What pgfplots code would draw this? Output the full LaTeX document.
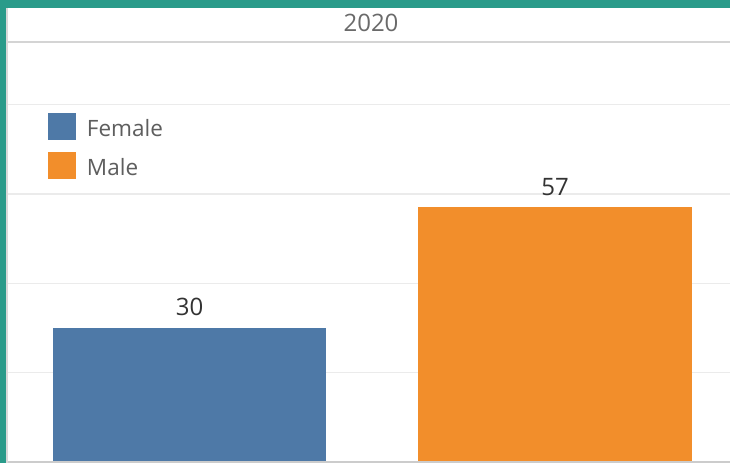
\documentclass[border=0pt]{standalone}
\usepackage{pgfplots}
\pgfplotsset{compat=1.18}
\usepackage{fontspec}
\setmainfont{Open Sans}
\definecolor{tealb}{HTML}{2A9B8A}
\definecolor{fem}{HTML}{4E79A7}
\definecolor{mal}{HTML}{F28E2B}
\definecolor{lgrey}{HTML}{5E5E5E}
\definecolor{hgrey}{HTML}{6A6A6A}
\definecolor{ngrey}{HTML}{333333}
\begin{document}
\begin{tikzpicture}[x=1pt,y=1pt]
\fill[white] (0,0) rectangle (730,463);
\path[use as bounding box] (0,0) rectangle (730,463);
\begin{axis}[
  at={(7pt,1pt)}, anchor=south west,
  scale only axis, width=723pt, height=420pt,
  xmin=-0.4993, xmax=1.4788, ymin=0, ymax=94.06,
  /pgf/number format/assume math mode=true,
  axis line style={draw=none},
  xtick=\empty, ytick={20,40,60,80}, yticklabels={},
  major tick length=0pt,
  ymajorgrids, grid style={color=black!8, line width=1.3pt},
  legend style={at={(0.0567,0.831)}, anchor=north west, draw=none, fill=none,
    inner sep=0pt, outer sep=0pt, row sep=12pt,
    font=\fontsize{22.5}{22.5}\selectfont,
    nodes={inner sep=0pt, text=lgrey, yshift=-2pt},
    /tikz/every odd column/.style={column sep=11pt}},
  legend cell align=left,
  clip=false,
]
\addplot[ybar, bar width=273pt, bar shift=0pt, fill=fem, draw=none,
  nodes near coords,
  every node near coord/.append style={font=\fontsize{24}{24}\selectfont, text=ngrey, inner sep=0pt, yshift=12pt},
  legend image code/.code={\fill[fem] (0pt,-13.5pt) rectangle (28pt,13.5pt);}]
  coordinates {(0,30)};
\addlegendentry{Female}
\addplot[ybar, bar width=274pt, bar shift=0pt, fill=mal, draw=none,
  nodes near coords,
  every node near coord/.append style={font=\fontsize{24}{24}\selectfont, text=ngrey, inner sep=0pt, yshift=12pt},
  legend image code/.code={\fill[mal] (0pt,-13.5pt) rectangle (28pt,13.5pt);}]
  coordinates {(1,57)};
\addlegendentry{Male}
\end{axis}
% frame and header
\draw[black!17, line width=2pt] (7,421) -- (730,421);
\draw[black!20, line width=1.5pt] (7,1) -- (730,1);
\draw[black!15, line width=1.5pt] (6.8,0) -- (6.8,455);
\node[font=\fontsize{24}{24}\selectfont, text=hgrey, anchor=base] at (371,431) {2020};
\fill[tealb] (0,0) rectangle (6,463);
\fill[tealb] (0,455) rectangle (730,463);
\end{tikzpicture}
\end{document}
